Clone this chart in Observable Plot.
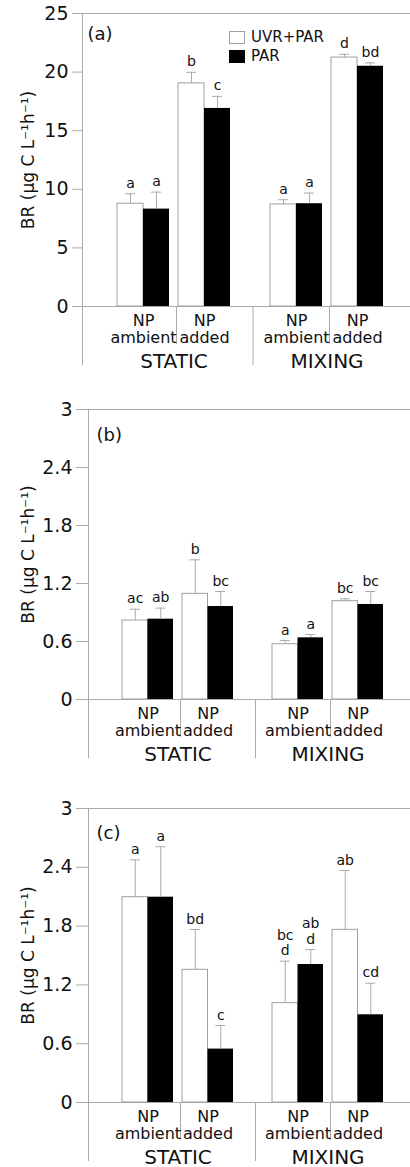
<!DOCTYPE html>
<html>
<head>
<meta charset="utf-8">
<script src="https://cdn.jsdelivr.net/npm/d3@7"></script>
<script src="https://cdn.jsdelivr.net/npm/@observablehq/plot@0.6"></script>
<style>
  html, body { margin: 0; padding: 0; background: #fff; }
  #chart { width: 410px; position: relative; font-family: "DejaVu Sans", sans-serif; }
  .panel { position: relative; }
  .panel svg { display: block; }
  .legend { position: absolute; font-size: 15px; color: #111; line-height: 1; }
  .legend .item { display: flex; align-items: center; height: 14px; margin-bottom: 5px; }
  .legend .sw { width: 16px; height: 13px; box-sizing: border-box; margin-right: 6px; }
</style>
</head>
<body>
<div id="chart"></div>
<script>
// ---- data ----
const regimes = ["STATIC", "MIXING"];
const nutrients = ["NP ambient", "NP added"];
const groupRegime = ["STATIC", "STATIC", "MIXING", "MIXING"];
const groupNutrient = ["NP ambient", "NP added", "NP ambient", "NP added"];
const series = ["UVR+PAR", "PAR"];
const panelTitles = ["(a)", "(b)", "(c)"];
const yTitle = "BR (μg C L⁻¹h⁻¹)";

const aTicks = [0, 5, 10, 15, 20, 25];
const aUVR = [8.77, 19.04, 8.71, 21.24];
const aUVRErr = [0.85, 0.94, 0.40, 0.28];
const aPAR = [8.31, 16.90, 8.77, 20.50];
const aPARErr = [1.45, 1.03, 0.91, 0.28];
const aUVRLetters = ["a", "b", "a", "d"];
const aPARLetters = ["a", "c", "a", "bd"];

const bTicks = [0, 0.6, 1.2, 1.8, 2.4, 3];
const bUVR = [0.817, 1.093, 0.572, 1.017];
const bUVRErr = [0.117, 0.352, 0.038, 0.024];
const bPAR = [0.831, 0.962, 0.638, 0.983];
const bPARErr = [0.114, 0.155, 0.034, 0.134];
const bUVRLetters = ["ac", "b", "a", "bc"];
const bPARLetters = ["ab", "bc", "a", "bc"];

const cTicks = [0, 0.6, 1.2, 1.8, 2.4, 3];
const cUVR = [2.095, 1.354, 1.014, 1.762];
const cUVRErr = [0.381, 0.411, 0.428, 0.605];
const cPAR = [2.095, 0.545, 1.408, 0.895];
const cPARErr = [0.515, 0.240, 0.153, 0.322];
const cUVRLetters = ["a", "bd", "bc\nd", "ab"];
const cPARLetters = ["a", "c", "ab\nd", "cd"];

const seriesFill = ["#ffffff", "#000000"];

// ---- layout ----
const grey = "#ababab";
const W = 410;

function panel(cfg) {
  const rows = [];
  groupRegime.forEach((r, i) => {
    rows.push({regime: r, nutrient: groupNutrient[i], series: series[0], value: cfg.uvr[i], err: cfg.uvrErr[i], letter: cfg.uvrL[i]});
    rows.push({regime: r, nutrient: groupNutrient[i], series: series[1], value: cfg.par[i], err: cfg.parErr[i], letter: cfg.parL[i]});
  });
  const uvr = rows.filter(d => d.series === series[0]);
  const par = rows.filter(d => d.series === series[1]);
  const cells = groupRegime.map((r, i) => ({regime: r, nutrient: groupNutrient[i]}));
  const first = [{regime: regimes[0], nutrient: nutrients[0]}];
  const second = [{regime: regimes[1], nutrient: nutrients[0]}];
  const half = cfg.band / 2;
  const q = half / 2;
  const cap = 5;
  const top = cfg.ticks[cfg.ticks.length - 1];
  const plotW = W - cfg.ml - cfg.mr;
  const facetGap = plotW - 2 * cfg.facetW;
  const xGap = cfg.facetW - 2 * cfg.band;

  return Plot.plot({
    width: W,
    height: cfg.height,
    marginTop: cfg.mt,
    marginBottom: cfg.mb,
    marginLeft: cfg.ml,
    marginRight: cfg.mr,
    style: {fontFamily: "DejaVu Sans, sans-serif", background: "#fff", color: "#111", overflow: "visible"},
    fx: {domain: regimes, paddingInner: facetGap / (cfg.facetW + facetGap), paddingOuter: 0, axis: null, label: null},
    x: {domain: nutrients, paddingInner: xGap / (cfg.band + xGap), paddingOuter: 0, axis: null, label: null},
    y: {domain: [0, top], label: null},
    marks: [
      // frame top and baseline
      Plot.ruleY([top], {stroke: grey, insetLeft: -cfg.axisOff, insetRight: -cfg.mr}),
      Plot.ruleY([0], {stroke: grey, insetLeft: -cfg.axisOff, insetRight: -cfg.mr}),
      // vertical axis line (extends below for category box)
      Plot.ruleX(first, {fx: "regime", x: "nutrient", dx: -(half + cfg.axisOff), stroke: grey, insetBottom: -cfg.longDrop}),
      // short dividers between nutrient groups
      Plot.ruleX(regimes.map(r => ({regime: r, nutrient: nutrients[1]})), {fx: "regime", x: "nutrient", y1: 0, y2: 0, dx: -(half + xGap / 2) + 2.5, stroke: grey, insetBottom: -cfg.shortDrop}),
      // long divider between regimes
      Plot.ruleX(second, {fx: "regime", x: "nutrient", y1: 0, y2: 0, dx: -(half + facetGap / 2) + 2.5, stroke: grey, insetBottom: -cfg.longDrop}),
      // bars
      Plot.barY(uvr, {fx: "regime", x: "nutrient", y: "value", fill: seriesFill[0], stroke: "#9f9f9f", strokeWidth: 1, insetRight: half}),
      Plot.barY(par, {fx: "regime", x: "nutrient", y: "value", fill: seriesFill[1], insetLeft: half}),
      // error bars
      Plot.ruleX(uvr, {fx: "regime", x: "nutrient", y1: "value", y2: d => d.value + d.err, dx: -q, stroke: grey}),
      Plot.ruleX(par, {fx: "regime", x: "nutrient", y1: "value", y2: d => d.value + d.err, dx: q, stroke: grey}),
      Plot.tickY(uvr, {fx: "regime", x: "nutrient", y: d => d.value + d.err, stroke: grey, insetLeft: q - cap, insetRight: half + q - cap}),
      Plot.tickY(par, {fx: "regime", x: "nutrient", y: d => d.value + d.err, stroke: grey, insetLeft: half + q - cap, insetRight: q - cap}),
      // significance letters
      Plot.text(uvr, {fx: "regime", x: "nutrient", y: d => d.value + d.err, text: "letter", dx: -q, dy: -6, lineAnchor: "bottom", fontSize: 14, lineHeight: 1.1, fill: "#111"}),
      Plot.text(par, {fx: "regime", x: "nutrient", y: d => d.value + d.err, text: "letter", dx: q, dy: -6, lineAnchor: "bottom", fontSize: 14, lineHeight: 1.1, fill: "#111"}),
      // y axis
      Plot.axisY({ticks: cfg.ticks, tickFormat: d => String(d), tickSize: cfg.tickSize, tickPadding: 4, dx: -cfg.axisOff, stroke: grey, fill: "#111", fontSize: 19, label: null}),
      // y title
      Plot.text(first, {fx: "regime", text: () => yTitle, frameAnchor: "left", rotate: -90, dx: -(cfg.ml - 28), textAnchor: "middle", lineAnchor: "middle", fontSize: 17, fill: "#111"}),
      // panel title
      Plot.text(first, {fx: "regime", text: () => cfg.title, frameAnchor: "top-left", textAnchor: "start", lineAnchor: "bottom", dx: -cfg.axisOff + cfg.titleDx, dy: cfg.titleDy, fontSize: 18, fill: "#111"}),
      // category labels
      Plot.text(cells, {fx: "regime", x: "nutrient", text: d => d.nutrient.replace(" ", "\n"), frameAnchor: "bottom", lineAnchor: "top", dy: 7.5, fontSize: 16, lineHeight: 1.05, fill: "#111"}),
      Plot.text(regimes, {fx: d => d, text: d => d, frameAnchor: "bottom", lineAnchor: "bottom", dy: 61, fontSize: 20, fill: "#111"})
    ]
  });
}

const configs = [
  {title: panelTitles[0], ticks: aTicks, uvr: aUVR, uvrErr: aUVRErr, par: aPAR, parErr: aPARErr, uvrL: aUVRLetters, parL: aPARLetters,
   height: 380, mt: 13, mb: 74, ml: 117, mr: 27, facetW: 113, band: 52, axisOff: 35, tickSize: 10, shortDrop: 38, longDrop: 59, titleDx: 5, titleDy: 26},
  {title: panelTitles[1], ticks: bTicks, uvr: bUVR, uvrErr: bUVRErr, par: bPAR, parErr: bPARErr, uvrL: bUVRLetters, parL: bPARLetters,
   height: 399, mt: 29, mb: 80, ml: 122, mr: 27, facetW: 111, band: 51, axisOff: 34, tickSize: 12, shortDrop: 38, longDrop: 59, titleDx: 8, titleDy: 31},
  {title: panelTitles[2], ticks: cTicks, uvr: cUVR, uvrErr: cUVRErr, par: cPAR, parErr: cPARErr, uvrL: cUVRLetters, parL: cPARLetters,
   height: 388, mt: 29, mb: 65, ml: 122, mr: 27, facetW: 111, band: 51, axisOff: 34, tickSize: 12, shortDrop: 38, longDrop: 59, titleDx: 8, titleDy: 30}
];

const root = document.getElementById("chart");
configs.forEach((cfg, i) => {
  const div = document.createElement("div");
  div.className = "panel";
  div.appendChild(panel(cfg));
  if (i === 0) {
    const lg = document.createElement("div");
    lg.className = "legend";
    lg.style.left = "229px";
    lg.style.top = "30px";
    series.forEach((s, k) => {
      const it = document.createElement("div");
      it.className = "item";
      const sw = document.createElement("span");
      sw.className = "sw";
      sw.style.background = seriesFill[k];
      sw.style.border = "1px solid " + (k === 0 ? "#9f9f9f" : seriesFill[k]);
      const tx = document.createElement("span");
      tx.textContent = s;
      it.appendChild(sw);
      it.appendChild(tx);
      lg.appendChild(it);
    });
    div.appendChild(lg);
  }
  root.appendChild(div);
});
</script>
</body>
</html>
